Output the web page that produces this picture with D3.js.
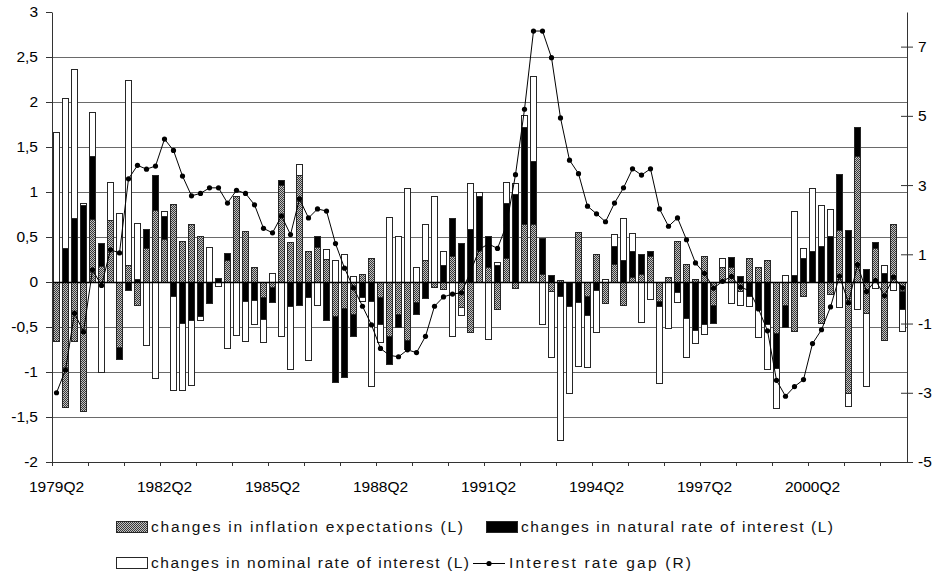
<!DOCTYPE html>
<html lang="en">
<head>
<meta charset="UTF-8">
<title>Interest rate gap decomposition</title>
<script src="https://cdn.jsdelivr.net/npm/d3@7"></script>
<style>
    body { margin: 0; background: #fff; }
    svg { display: block; font-family: "Liberation Sans", Arial, sans-serif; }
</style>
</head>
<body>
<div id="chart"></div>
<script>
// quarterly data, 1979Q2 .. 2002Q4 (left axis, stacked)
const inflation = [
    -0.65, -1.39, -0.66, -1.43, 0.70, 0.18, 0.69, -0.72, 0.19, -0.26,
    0.38, 0.80, 0.48, 0.87, 0.46, 0.65, 0.51, 0, 0, 0.25,
    0.95, 0.57, 0.17, -0.17, -0.06, 1.08, 0.44, 1.19, 0.35, 0.39,
    0.26, -0.38, -0.29, -0.36, 0.09, 0.27, -0.17, -0.60, -0.35, -0.64,
    -0.22, 0.25, -0.06, -0.08, 0.29, -0.28, -0.55, 0.37, 0.17, -0.30,
    0.27, -0.07, 0.65, 0.65, 0.09, -0.10, 0.02, 0, 0.56, -0.16,
    0.31, -0.23, 0.20, -0.25, 0.06, 0.09, 0.29, -0.21, 0.06, 0.46,
    0.20, 0.03, 0.29, -0.26, 0.17, 0.17, -0.10, 0.27, 0.17, 0.24,
    -0.57, -0.26, -0.54, -0.15, 0, -0.46, -0.13, 0.58, -1.23, 1.40,
    -0.34, 0.38, -0.64, 0.65, -0.10
];
const natural = [
    0, 0.38, 0.71, 0.86, 0.70, 0.25, 0, -0.13, -0.09, 0.03,
    0.21, 0.39, 0.25, -0.15, -0.46, -0.42, -0.38, -0.23, 0.05, 0.07,
    0, -0.21, -0.20, -0.24, -0.16, 0.05, -0.27, -0.25, -0.17, 0.12,
    -0.42, -0.73, -0.76, -0.24, -0.17, -0.21, -0.30, -0.31, -0.15, -0.10,
    -0.13, -0.18, 0, 0.19, 0.42, 0.43, 0.59, 0.58, 0.34, 0.19,
    0.61, 0.98, 1.07, 0.69, 0.40, 0.08, -0.15, -0.27, -0.22, -0.21,
    -0.09, 0, 0.20, 0.24, 0.28, 0.22, 0.05, -0.06, 0, -0.11,
    -0.40, -0.53, -0.47, -0.19, 0, 0.11, 0.07, -0.16, -0.29, -0.47,
    -0.38, -0.24, 0.08, 0.27, 0.34, 0.40, 0.51, 0.62, 0.58, 0.32,
    0.15, 0.06, 0.10, 0, -0.20
];
const nominal = [
    1.67, 1.67, 1.66, 0.02, 0.49, -1.00, 0.42, 0.77, 2.06, 0.63,
    -0.70, -1.07, 0.06, -1.05, -0.74, -0.72, -0.04, 0.39, -0.04, -0.73,
    -0.59, -0.45, -0.27, -0.26, 0.10, -0.60, -0.70, 0.12, -0.70, -0.26,
    0.11, 0.24, 0.31, 0.07, -0.04, -0.95, -0.20, 0.72, 0.51, 1.04,
    0.17, 0.39, 0.96, 0.15, -0.60, -0.09, 0.51, 0.05, -0.63, 0.03,
    0.23, 0.12, 0.14, 0.95, -0.47, -0.73, -1.61, -0.96, -0.71, -0.57,
    -0.47, 0.03, 0.13, 0.47, 0.20, -0.44, -0.19, -0.85, -0.51, -0.11,
    -0.43, -0.15, -0.11, 0, 0.10, -0.23, -0.16, -0.11, -0.32, -0.50,
    -0.45, 0.08, 0.71, 0.11, 0.71, 0.46, 0.30, -0.28, -0.15, -0.30,
    -0.81, -0.07, 0.09, -0.09, -0.24
];
// right axis
const gap = [
    -3.00, -2.34, -0.70, -1.24, 0.55, 0.10, 1.13, 1.04, 3.18, 3.57,
    3.46, 3.55, 4.33, 4.00, 3.26, 2.69, 2.76, 2.92, 2.92, 2.48,
    2.85, 2.76, 2.43, 1.75, 1.62, 2.11, 1.57, 2.60, 2.05, 2.31,
    2.25, 1.31, 0.60, 0.03, -0.50, -1.04, -1.72, -1.92, -1.96, -1.76,
    -1.84, -1.37, -0.50, -0.23, -0.15, -0.11, 0.50, 1.15, 1.30, 1.17,
    1.85, 3.30, 5.19, 7.45, 7.45, 6.68, 4.94, 3.72, 3.33, 2.39,
    2.17, 1.94, 2.48, 2.92, 3.47, 3.29, 3.47, 2.31, 1.81, 2.05,
    1.42, 0.75, 0.45, 0.02, 0.22, 0.36, 0.05, -0.05, -0.58, -1.21,
    -2.64, -3.10, -2.82, -2.62, -1.58, -1.18, -0.52, 0.37, -0.40, 0.70,
    -0.08, 0.25, -0.20, 0.34, 0.03
];

const xLabels = ["1979Q2", "1982Q2", "1985Q2", "1988Q2", "1991Q2", "1994Q2", "1997Q2", "2000Q2"];
const leftTicks = [-2, -1.5, -1, -0.5, 0, 0.5, 1, 1.5, 2, 2.5, 3];
const rightTicks = [-5, -3, -1, 1, 3, 5, 7];
const seriesNames = [
    "changes in inflation expectations (L)",
    "changes in natural rate of interest (L)",
    "changes in nominal rate of interest (L)",
    "Interest rate gap (R)"
];

// quarter names, index 0 = 1979Q2
const quarters = [];
for (let i = 0; i < inflation.length; i++) {
    let q = i + 1;
    quarters.push((1979 + Math.floor(q / 4)) + "Q" + (q % 4 + 1));
}

const width = 935, height = 575;
const plotLeft = 52, plotRight = 907, plotTop = 12, plotBottom = 462;

const svg = d3.select('#chart').append('svg')
    .attr('width', width)
    .attr('height', height);

// fine checkered fill for the inflation series
const pat = svg.append('defs').append('pattern')
    .attr('id', 'checker')
    .attr('width', 2).attr('height', 2)
    .attr('patternUnits', 'userSpaceOnUse');
pat.append('rect').attr('width', 2).attr('height', 2).attr('fill', '#c2c2c2');
pat.append('rect').attr('width', 1).attr('height', 1).attr('fill', '#383838');
pat.append('rect').attr('x', 1).attr('y', 1).attr('width', 1).attr('height', 1).attr('fill', '#383838');

const x = d3.scaleBand().domain(quarters).range([plotLeft, plotRight]).paddingInner(0.19).paddingOuter(0.095);
const xi = d3.scaleLinear().domain([0, quarters.length]).range([plotLeft, plotRight]);
const yL = d3.scaleLinear().domain([-2, 3]).range([plotBottom, plotTop]);
const yR = d3.scaleLinear().domain([-5, 8]).range([plotBottom, plotTop]);

const fmt = d3.formatLocale({decimal: ",", thousands: ".", grouping: [3], currency: ["", ""], minus: "-"}).format("~g");

// gridlines
svg.append('g')
    .selectAll('line')
    .data(leftTicks.filter(v => v > -2 && v < 3 && v !== 0))
    .enter().append('line')
    .attr('x1', plotLeft).attr('x2', plotRight)
    .attr('y1', d => Math.round(yL(d)) + 0.5)
    .attr('y2', d => Math.round(yL(d)) + 0.5)
    .attr('stroke', '#6a6a6a')
    .attr('stroke-width', 1);

// stacked bars, positives up and negatives down
const rows = quarters.map((q, i) => ({q: q, infl: inflation[i], nat: natural[i], nom: nominal[i]}));
const stacked = d3.stack()
    .keys(['infl', 'nat', 'nom'])
    .offset(d3.stackOffsetDiverging)(rows);
const fills = {infl: 'url(#checker)', nat: '#000', nom: '#fff'};

svg.append('g')
    .selectAll('g')
    .data(stacked)
    .enter().append('g')
    .attr('fill', d => fills[d.key])
    .selectAll('rect')
    .data(d => d.filter(s => s[1] !== s[0]))
    .enter().append('rect')
    .attr('x', d => Math.round(x(d.data.q)) + 0.5)
    .attr('width', Math.round(x.bandwidth()) - 1)
    .attr('y', d => Math.round(yL(d[1])) + 0.5)
    .attr('height', d => Math.max(1, Math.round(yL(d[0])) - Math.round(yL(d[1]))))
    .attr('stroke', '#262626')
    .attr('stroke-width', 1);

// zero line
svg.append('line')
    .attr('x1', plotLeft).attr('x2', plotRight)
    .attr('y1', Math.round(yL(0)) + 0.5).attr('y2', Math.round(yL(0)) + 0.5)
    .attr('stroke', '#000')
    .attr('stroke-width', 1.3);

// interest rate gap line
const cx = (d, i) => x(quarters[i]) + x.bandwidth() / 2;
svg.append('path')
    .datum(gap)
    .attr('fill', 'none')
    .attr('stroke', '#000')
    .attr('stroke-width', 1)
    .attr('d', d3.line().x(cx).y(d => yR(d)));

svg.append('g')
    .selectAll('circle')
    .data(gap)
    .enter().append('circle')
    .attr('cx', cx)
    .attr('cy', d => yR(d))
    .attr('r', 2.6)
    .attr('fill', '#000');

// axes
function styleAxis(g) {
    g.selectAll('path, line').attr('stroke', '#333');
    g.selectAll('text').attr('fill', '#000').attr('font-size', 15.5);
}

svg.append('g')
    .attr('transform', `translate(${plotLeft},0)`)
    .call(d3.axisLeft(yL).tickValues(leftTicks).tickFormat(fmt).tickSize(6).tickSizeOuter(0).tickPadding(8))
    .call(styleAxis);

svg.append('g')
    .attr('transform', `translate(${plotRight},0)`)
    .call(d3.axisRight(yR).tickValues(rightTicks).tickFormat(fmt).tickSize(6).tickSizeOuter(0).tickPadding(5))
    .call(styleAxis)
    .call(g => g.selectAll('.tick line').attr('x1', -6));

svg.append('g')
    .attr('transform', `translate(0,${plotBottom})`)
    .call(d3.axisBottom(xi).tickValues(d3.range(0, quarters.length - 2, 4)).tickFormat('').tickSize(4).tickSizeOuter(0))
    .call(styleAxis);

svg.append('g')
    .attr('transform', `translate(0,${plotBottom})`)
    .call(d3.axisBottom(x).tickValues(xLabels).tickSize(0).tickPadding(19))
    .call(styleAxis)
    .call(g => g.select('.domain').remove());

// legend
const legend = svg.append('g').attr('font-size', 15.5).attr('fill', '#111');
const legendItems = [
    {name: seriesNames[0], kind: 'infl', sx: 116, tx: 151, len: 312, y: 527},
    {name: seriesNames[1], kind: 'nat', sx: 486, tx: 521, len: 312, y: 527},
    {name: seriesNames[2], kind: 'nom', sx: 116, tx: 151, len: 318, y: 563},
    {name: seriesNames[3], kind: 'gap', sx: 473, tx: 509, len: 182, y: 563}
];

legendItems.forEach(item => {
    if (item.kind === 'gap') {
        legend.append('line')
            .attr('x1', item.sx).attr('x2', item.sx + 32)
            .attr('y1', item.y + 0.5).attr('y2', item.y + 0.5)
            .attr('stroke', '#000');
        legend.append('circle')
            .attr('cx', item.sx + 16).attr('cy', item.y + 0.5)
            .attr('r', 2.6).attr('fill', '#000');
    } else {
        legend.append('rect')
            .attr('x', item.sx + 0.5).attr('y', item.y - 5.5)
            .attr('width', 31).attr('height', 11)
            .attr('fill', fills[item.kind])
            .attr('stroke', '#262626');
    }
    legend.append('text')
        .attr('x', item.tx)
        .attr('y', item.y)
        .attr('dy', '0.35em')
        .attr('textLength', item.len)
        .attr('lengthAdjust', 'spacing')
        .text(item.name);
});
</script>
</body>
</html>
